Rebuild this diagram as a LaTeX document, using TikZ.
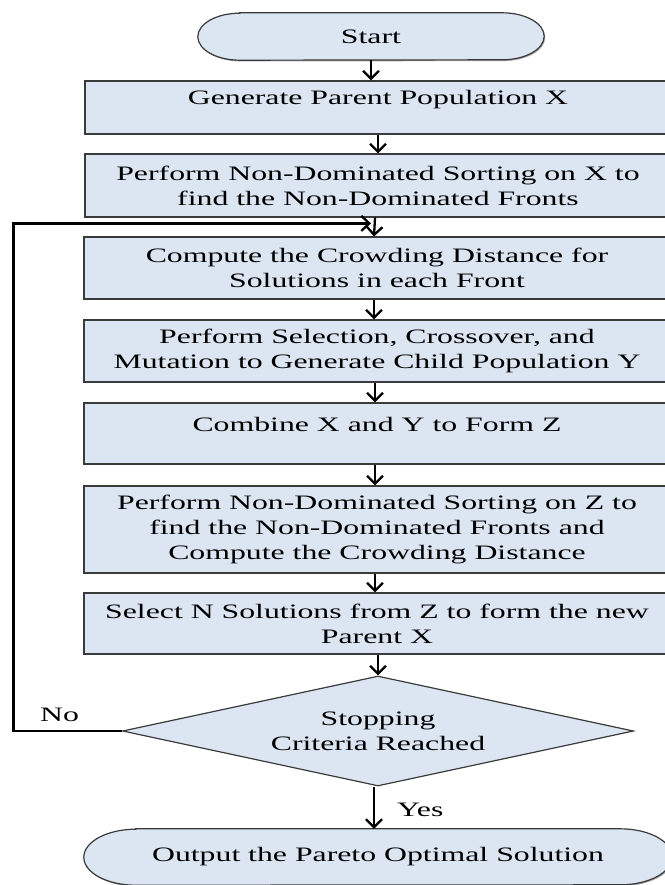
\documentclass[tikz,border=0pt]{standalone}
\usepackage{fontspec}
\setmainfont[FakeStretch=1.55]{Liberation Serif}
\usetikzlibrary{arrows.meta,shapes.geometric,shadows,backgrounds,calc}
\definecolor{boxfill}{HTML}{DCE6F2}
\definecolor{boxline}{HTML}{3A3A3A}
\begin{document}
\begin{tikzpicture}[x=1pt,y=-1pt,
  font=\fontsize{20.5}{25}\selectfont,
  shad/.style={drop shadow={shadow xshift=1pt,shadow yshift=-1.3pt,opacity=0.35,fill=black}},
  box/.style={draw=boxline,line width=1.2pt,fill=boxfill,minimum width=586pt,inner sep=2pt,align=center,shad},
  toptext/.style={text height=14pt,text depth=19pt},
  term/.style={minimum width=#1,inner sep=0pt,align=center},
  termshape/.style={draw=boxline,line width=1.2pt,fill=boxfill,shad},
  dia/.style={diamond,aspect=4.6,draw=boxline,line width=1.2pt,fill=boxfill,minimum width=511pt,minimum height=110pt,inner sep=0pt,align=center},
  arr/.style={line width=2.3pt,-{Straight Barb[length=8pt,width=16pt,line width=2.3pt]}},
  looparr/.style={line width=2.8pt,-{Straight Barb[length=8pt,width=15pt,line width=2.3pt]}},
  lbl/.style={anchor=west,inner sep=0pt}
]
\useasboundingbox (0,0) rectangle (664,885);

% terminators (text nodes; shapes drawn on background layer)
\node[term=346pt,minimum height=47pt] (start) at (371,36.5) {Start};
\node[term=588pt,minimum height=56pt] (out) at (378,857) {Output the Pareto Optimal Solution};
\begin{pgfonlayer}{background}
  \path[termshape] ([xshift=42pt]start.north west) -- ([xshift=-42pt]start.north east)
     arc[start angle=90,end angle=-90,x radius=42pt,y radius=23.5pt]
     -- ([xshift=42pt]start.south west)
     arc[start angle=270,end angle=90,x radius=42pt,y radius=23.5pt] -- cycle;
  \path[termshape] ([xshift=52pt]out.north west) -- ([xshift=-52pt]out.north east)
     arc[start angle=90,end angle=-90,x radius=52pt,y radius=28pt]
     -- ([xshift=52pt]out.south west)
     arc[start angle=270,end angle=90,x radius=52pt,y radius=28pt] -- cycle;
\end{pgfonlayer}

% process boxes
\node[box,toptext,minimum height=53pt] (b1) at (378,107.5) {Generate Parent Population X};
\node[box,minimum height=63pt] (b2) at (378,185.5) {Perform Non-Dominated Sorting on X to\\find the Non-Dominated Fronts};
\node[box,minimum height=62pt] (b3) at (377,268) {Compute the Crowding Distance for\\Solutions in each Front};
\node[box,minimum height=62pt] (b4) at (377,351) {Perform Selection, Crossover, and\\Mutation to Generate Child Population Y};
\node[box,toptext,minimum height=61pt] (b5) at (377,433.5) {Combine X and Y to Form Z};
\node[box,minimum height=87pt] (b6) at (377,529.5) {Perform Non-Dominated Sorting on Z to\\find the Non-Dominated Fronts and\\Compute the Crowding Distance};
\node[box,minimum height=61pt] (b7) at (377,623.5) {Select N Solutions from Z to form the new\\Parent X};
\node[dia] (dec) at (378,731) {Stopping\\Criteria Reached};

% labels
\node[lbl] (no) at (40,715) {No};
\node[lbl] (yes) at (397,810) {Yes};

% connectors
\draw[arr] (start.south) -- (start.south |- b1.north);
\draw[arr] (b1.south) -- (b2.north);
\draw[arr] ([xshift=-3pt]b2.south) -- ([xshift=-3pt]b3.north);
\draw[arr] ([xshift=-3pt]b3.south) -- ([xshift=-3pt]b4.north);
\draw[arr] ([xshift=-2pt]b4.south) -- ([xshift=-2pt]b5.north);
\draw[arr] ([xshift=-2pt]b5.south) -- ([xshift=-2pt]b6.north);
\draw[arr] ([xshift=-2pt]b6.south) -- ([xshift=-2pt]b7.north);
\draw[arr] (b7.south -| dec.north) -- (dec.north);
\draw[arr] ([xshift=-4pt]dec.south) -- ([xshift=-4pt]dec.south |- out.north);
\coordinate (loopin) at ([xshift=-6pt,yshift=13pt]b3.north);
\draw[looparr] (dec.west) -- ++(-108.5,0) |- (loopin);
\end{tikzpicture}
\end{document}
